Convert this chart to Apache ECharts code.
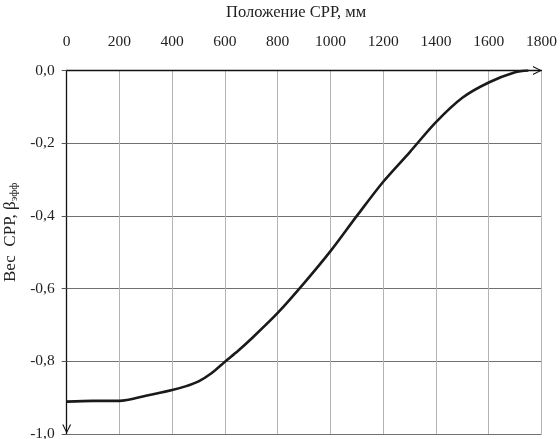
<!DOCTYPE html>
<html><head><meta charset="utf-8">
<script src="https://cdn.jsdelivr.net/npm/echarts@6/dist/echarts.min.js"></script>
<style>html,body{margin:0;padding:0;background:#fff}#c{width:560px;height:439px}</style>
</head><body><div id="c"></div>
<script>
const positions = [0, 100, 200, 300, 400, 450, 500, 550, 600, 650, 700, 800, 900, 1000, 1100, 1200, 1300, 1400, 1500, 1600, 1700, 1750];
const weights = [-0.911, -0.909, -0.909, -0.895, -0.879, -0.869, -0.855, -0.832, -0.801, -0.771, -0.738, -0.667, -0.585, -0.497, -0.400, -0.306, -0.225, -0.142, -0.075, -0.033, -0.005, 0.0];
const xTitle = 'Положение СРР, мм';
const yTitle = 'Вес  СРР, β{sub|эфф}';

const chevron = 'path://M5,0 L10,10 L8.6,10 L5,2.4 L1.4,10 L0,10 Z';
const font = 'Liberation Serif';

const chart = echarts.init(document.getElementById('c'));
chart.setOption({
  animation: false,
  grid: { left: 66.7, right: 18.5, top: 70.5, bottom: 5, outerBoundsMode: 'none', containLabel: false },
  xAxis: {
    type: 'value', position: 'top', min: 0, max: 1800, interval: 200,
    name: xTitle, nameLocation: 'middle', nameGap: 49,
    nameTextStyle: { fontFamily: font, fontSize: 16.5, color: '#222', padding: [0, 16, 0, 0] },
    axisLine: { show: true, onZero: false, lineStyle: { color: '#111', width: 1.3 },
      symbol: ['none', chevron], symbolSize: [9, 11], symbolOffset: [0, -4] },
    axisTick: { show: false },
    axisLabel: { fontFamily: font, fontSize: 15.5, color: '#222', margin: 21, formatter: v => String(v) },
    splitLine: { show: true, lineStyle: { color: '#b4b4b4', width: 1 } }
  },
  yAxis: {
    type: 'value', min: -1, max: 0, interval: 0.2,
    name: yTitle, nameLocation: 'middle', nameGap: 46, nameRotate: 90,
    nameTextStyle: { fontFamily: font, fontSize: 17, color: '#222', padding: [0, 0, 0, 40],
      rich: { sub: { fontFamily: font, fontSize: 11, color: '#222', verticalAlign: 'bottom', padding: [7, 0, 0, 0] } } },
    axisLine: { show: true, onZero: false, lineStyle: { color: '#111', width: 1.3 },
      symbol: [chevron, 'none'], symbolSize: [9, 12], symbolOffset: [5, 0] },
    axisTick: { show: true, length: 5, lineStyle: { color: '#555' } },
    axisLabel: { fontFamily: font, fontSize: 15.5, color: '#222', margin: 12,
      formatter: v => v.toFixed(1).replace('.', ',') },
    splitLine: { show: true, lineStyle: { color: '#707070', width: 1 } }
  },
  series: [{
    type: 'line', data: positions.map((p, i) => [p, weights[i]]),
    smooth: 0.3, showSymbol: false, symbol: 'none',
    lineStyle: { color: '#1a1a1a', width: 2.6 }
  }]
});
</script></body></html>
